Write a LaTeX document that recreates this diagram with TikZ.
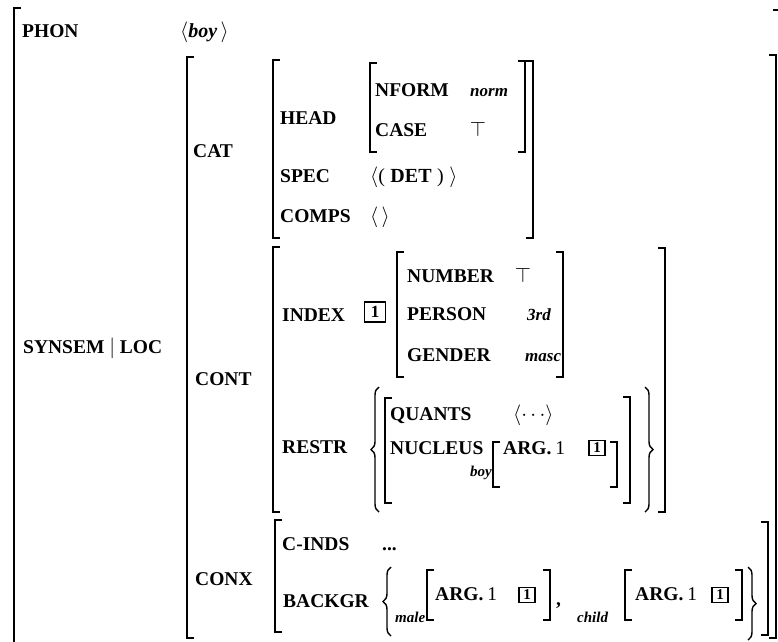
\documentclass[tikz,border=0pt]{standalone}
\usepackage{fontspec}
\setmainfont{Liberation Serif}
\usetikzlibrary{decorations.pathreplacing}
\tikzset{
  lab/.style={anchor=base west, inner sep=0pt, font=\fontsize{19.5}{22}\selectfont\bfseries},
  val/.style={anchor=base west, inner sep=0pt, font=\fontsize{17}{19}\selectfont\bfseries\itshape},
  sub/.style={anchor=base west, inner sep=0pt, font=\fontsize{15}{17}\selectfont\bfseries\itshape},
  sym/.style={anchor=base west, inner sep=0pt, font=\fontsize{20}{22}\selectfont},
  brk/.style={line width=1.9pt, line join=miter},
  brc/.style={decorate, decoration={brace, amplitude=8pt}, line width=1.4pt},
  tagbig/.style={draw, line width=1.2pt, inner sep=0pt, minimum width=21pt, minimum height=20pt, font=\fontsize{17}{19}\selectfont\bfseries},
  tagsm/.style={draw, line width=1.2pt, inner sep=0pt, minimum width=16pt, minimum height=15pt, font=\fontsize{15}{17}\selectfont\bfseries},
}
\newcommand{\avmL}[3]{\draw[brk] ({#1+7},#2) -- (#1,#2) -- (#1,#3) -- ({#1+7},#3);}
\newcommand{\avmR}[3]{\draw[brk] ({#1-7},#2) -- (#1,#2) -- (#1,#3) -- ({#1-7},#3);}
\begin{document}
\begin{tikzpicture}[x=1pt,y=-1pt]
\useasboundingbox (0,0) rectangle (778,641);
% outer brackets
\draw[brk] (21,8) -- (14,8) -- (14,650);
\draw[brk] (773,10) -- (780,10);
\avmL{187}{57}{638}
\avmR{776}{55}{638}
% top level
\node[lab] (phon) at (22,37) {PHON};
\node[sym] (phonv) at (180,37) {$\langle$\textbf{\textit{boy}}\,$\rangle$};
\node[lab] (synsem) at (23,353) {SYNSEM $\big|$ LOC};
\node[lab] (cat) at (193,157) {CAT};
\node[lab] (cont) at (195,385) {CONT};
\node[lab] (conx) at (195,585) {CONX};
% CAT
\avmL{273}{60}{238}
\avmR{533}{61}{238}
\node[lab] (head) at (280,124) {HEAD};
\avmL{370}{63}{152}
\avmR{525}{61}{152}
\node[lab] (nform) at (375,96) {NFORM};
\node[val] (norm) at (470,96) {norm};
\node[lab] (case) at (375,136) {CASE};
\node[sym, anchor=base] (casev) at (478,136) {$\top$};
\node[lab] (spec) at (280,182) {SPEC};
\node[sym] (specv) at (370,182) {$\langle$(\;\textbf{DET}\;)\;$\rangle$};
\node[lab] (comps) at (280,222) {COMPS};
\node[sym] (compsv) at (370,222) {$\langle\,\rangle$};
% CONT
\avmL{273}{247}{512}
\avmR{665}{248}{512}
\node[lab] (index) at (282,321) {INDEX};
\node[tagbig] (t1) at (375,312) {1};
\avmL{397}{252}{377}
\avmR{563}{252}{377}
\node[lab] (number) at (407,282) {NUMBER};
\node[sym, anchor=base] (numv) at (523,282) {$\top$};
\node[lab] (person) at (407,320) {PERSON};
\node[val] (persv) at (527,320) {3rd};
\node[lab] (gender) at (407,361) {GENDER};
\node[val] (gendv) at (525,361) {masc};
\node[lab] (restr) at (282,453) {RESTR};
\draw[brc] (379,512) -- (379,387);
\draw[brc] (645,387) -- (645,512);
\avmL{385}{398}{503}
\avmR{630}{397}{503}
\node[lab] (quants) at (390,420) {QUANTS};
\node[sym] (quantsv) at (513,420) {$\langle\cdots\rangle$};
\node[lab] (nucleus) at (390,454) {NUCLEUS};
\node[sub] (boy) at (470,476) {boy};
\avmL{493}{442}{487}
\avmR{617}{442}{487}
\node[lab] (arg1) at (503,454) {ARG.\hspace{4pt}\mdseries 1};
\node[tagsm] (t2) at (597,448) {1};
% CONX
\avmL{275}{520}{632}
\avmR{768}{522}{635}
\node[lab] (cinds) at (282,550) {C-INDS};
\node[lab] (cindsv) at (382,550) {...};
\node[lab] (backgr) at (283,607) {BACKGR};
\draw[brc] (391,636) -- (391,567);
\draw[brc] (748,567) -- (748,640);
\node[sub] (male) at (395,622) {male};
\avmL{427}{570}{620}
\node[lab] (arg2) at (435,600) {ARG.\hspace{4pt}\mdseries 1};
\node[tagsm] (t3) at (527,595) {1};
\avmR{550}{570}{620}
\node[lab] (comma) at (556,605) {,};
\node[sub] (child) at (577,622) {child};
\avmL{625}{570}{620}
\node[lab] (arg3) at (635,600) {ARG.\hspace{4pt}\mdseries 1};
\node[tagsm] (t4) at (720,595) {1};
\avmR{742}{570}{620}
\end{tikzpicture}
\end{document}
